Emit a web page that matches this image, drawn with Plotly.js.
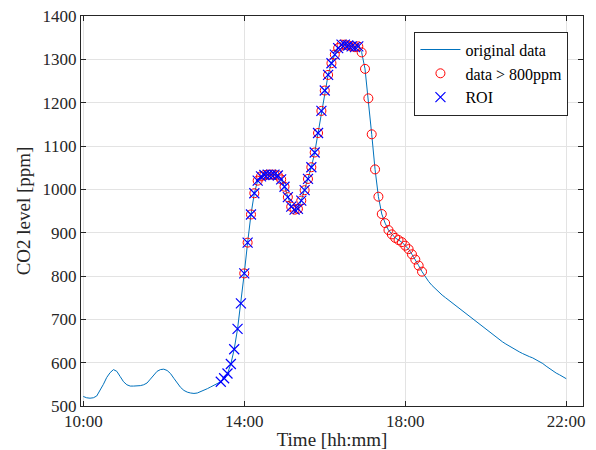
<!DOCTYPE html>
<html>
<head>
<meta charset="utf-8">
<script src="https://cdn.plot.ly/plotly-3.0.1.min.js"></script>
<style>html,body{margin:0;padding:0;background:#fff;}#chart{width:596px;height:450px;}</style>
</head>
<body>
<div id="chart"></div>
<script>
// Sampling grid of the measurement (5-minute samples starting at 10:00)
const day = '2021-01-01';
const startHour = 10;
const stepMinutes = 5;

// CO2 level [ppm], one value per 5-minute sample, 10:00 .. 22:00
const co2 = [
  522, 519, 518, 519, 523, 535, 550, 566, 577, 584,   // 10:00-10:45
  580, 568, 556, 549, 546, 546, 546, 547, 549, 553,   // 10:50-11:35
  562, 572, 580, 584, 585, 582, 575, 564, 553, 543,   // 11:40-12:25
  536, 532, 530, 529, 530, 533, 537, 540, 544, 548,   // 12:30-13:15
  552, 556, 564, 575, 597, 631, 678, 737, 806, 877,   // 13:20-14:05
  942, 991, 1020, 1030, 1033, 1034, 1034, 1034, 1032, 1023, // 14:10-14:55
  1006, 982, 960, 953, 955, 974, 998, 1024, 1051, 1085,     // 15:00-15:45
  1130, 1181, 1228, 1264, 1291, 1311, 1326, 1334, 1334, 1332, // 15:50-16:35
  1330, 1328, 1330, 1316, 1278, 1210, 1127, 1046, 983, 943,   // 16:40-17:25
  922, 906, 896, 888, 883, 878, 870, 862, 850, 838,   // 17:30-18:15
  824, 810, 798, 787, 778, 770, 762, 756, 750, 744,   // 18:20-19:05
  738, 732, 725, 718, 712, 706, 700, 694, 688, 683,   // 19:10-19:55
  678, 672, 666, 660, 654, 648, 643, 638, 634, 630,   // 20:00-20:45
  625, 621, 617, 614, 611, 607, 603, 598, 592, 586,   // 20:50-21:35
  580, 576, 572, 567, 563                              // 21:40-22:00
];

const threshold = 800;          // ppm
const roiStart = '13:25';
const roiEnd = '16:50';
const xTickLabels = ['10:00', '14:00', '18:00', '22:00'];

function pad(n){ return (n < 10 ? '0' : '') + n; }
function hhmm(i){
  const m = startHour * 60 + i * stepMinutes;
  return pad(Math.floor(m / 60)) + ':' + pad(m % 60);
}
const clock = co2.map((_, i) => hhmm(i));
const times = clock.map(c => day + ' ' + c + ':00');

const hiX = [], hiY = [], roiX = [], roiY = [];
co2.forEach((v, i) => {
  if (v > threshold) { hiX.push(times[i]); hiY.push(v); }
  if (clock[i] >= roiStart && clock[i] <= roiEnd) { roiX.push(times[i]); roiY.push(v); }
});

const fam = '"Liberation Serif", "Times New Roman", serif';
const tickFont = {family: fam, size: 17, color: '#262626'};
const titleFont = {family: fam, size: 19, color: '#262626'};

const traces = [
  {x: times, y: co2, type: 'scatter', mode: 'lines', name: 'original data',
   line: {color: '#0072BD', width: 1}},
  {x: hiX, y: hiY, type: 'scatter', mode: 'markers', name: 'data > 800ppm',
   marker: {symbol: 'circle-open', size: 9, color: '#FF0000', line: {width: 1, color: '#FF0000'}}},
  {x: roiX, y: roiY, type: 'scatter', mode: 'markers', name: 'ROI',
   marker: {symbol: 'x-thin-open', size: 10, color: '#0000FF', line: {width: 1.2, color: '#0000FF'}}}
];

const layout = {
  width: 596, height: 450,
  margin: {l: 81, r: 13, t: 16, b: 44},
  paper_bgcolor: '#ffffff', plot_bgcolor: '#ffffff',
  font: tickFont,
  showlegend: true,
  legend: {
    x: 0.971, y: 0.96, xanchor: 'right', yanchor: 'top',
    bgcolor: '#ffffff', bordercolor: '#262626', borderwidth: 1,
    font: {family: fam, size: 16, color: '#000000'},
    tracegroupgap: 0, itemwidth: 40
  },
  xaxis: {
    type: 'date',
    range: [day + ' 09:56:36', day + ' 22:25:00'],
    tickmode: 'array',
    tickvals: xTickLabels.map(t => day + ' ' + t + ':00'),
    ticktext: xTickLabels,
    ticks: 'inside', ticklen: 5, tickcolor: '#262626', tickwidth: 1,
    showline: true, linecolor: '#262626', linewidth: 1, mirror: 'ticks',
    showgrid: true, gridcolor: '#e3e3e3', gridwidth: 1,
    zeroline: false,
    tickfont: tickFont,
    title: {text: 'Time [hh:mm]', font: titleFont, standoff: 0}
  },
  yaxis: {
    range: [500, 1400],
    tickmode: 'linear', tick0: 500, dtick: 100,
    ticks: 'inside', ticklen: 5, tickcolor: '#262626', tickwidth: 1,
    showline: true, linecolor: '#262626', linewidth: 1, mirror: 'ticks',
    showgrid: true, gridcolor: '#e3e3e3', gridwidth: 1,
    zeroline: false,
    tickfont: tickFont,
    title: {text: 'CO2 level [ppm]', font: titleFont, standoff: 6}
  }
};

Plotly.newPlot('chart', traces, layout, {staticPlot: true, displayModeBar: false});
</script>
</body>
</html>
